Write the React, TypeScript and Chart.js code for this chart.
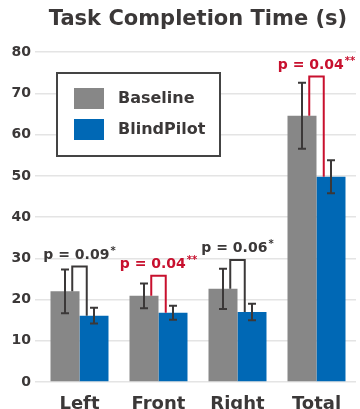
import React, { useEffect, useRef } from "react";
import { Chart, registerables } from "chart.js";

Chart.register(...registerables);

const categories = ["Left", "Front", "Right", "Total"];
const seriesNames = ["Baseline", "BlindPilot"];
const baselineMeans = [22.0, 20.9, 22.6, 64.6];
const baselineErr = [5.3, 3.0, 4.9, 8.0];
const blindPilotMeans = [16.1, 16.8, 17.0, 49.8];
const blindPilotErr = [1.9, 1.7, 2.0, 4.0];
const bracketTops = [28.0, 25.8, 29.6, 74.1];
const pValues = ["0.09", "0.04", "0.06", "0.04"];
const pStars = ["*", "**", "*", "**"];
const pSignificant = [false, true, false, true];
const yMin = 0;
const yMax = 80;
const yStep = 10;

const FONT = "'DejaVu Sans', sans-serif";
const DARK = "#3b3838";
const RED = "#c8102e";
const GRAY = "#878787";
const BLUE = "#0068b5";

const overlay = {
  id: "overlay",
  afterDatasetsDraw(chart: any) {
    const ctx = chart.ctx;
    const y = chart.scales.y;
    const area = chart.chartArea;
    const m0 = chart.getDatasetMeta(0);
    const m1 = chart.getDatasetMeta(1);
    ctx.save();

    // brackets + p labels
    m0.data.forEach((g: any, i: number) => {
      const b = m1.data[i];
      const color = pSignificant[i] ? RED : DARK;
      const lx = g.x + g.width / 4;
      const rx = b.x - b.width / 4;
      const ty = y.getPixelForValue(bracketTops[i]);
      ctx.strokeStyle = color;
      ctx.lineWidth = 2;
      ctx.beginPath();
      ctx.moveTo(lx, g.y);
      ctx.lineTo(lx, ty);
      ctx.lineTo(rx, ty);
      ctx.lineTo(rx, b.y);
      ctx.stroke();

      const main = "p = " + pValues[i];
      ctx.font = "bold 14px " + FONT;
      const w1 = ctx.measureText(main).width;
      ctx.font = "bold 10px " + FONT;
      const w2 = ctx.measureText(pStars[i]).width;
      const cx = (g.x + b.x) / 2;
      const sx = cx - (w1 + w2 + 1) / 2;
      const base = ty - 8;
      ctx.fillStyle = color;
      ctx.textAlign = "left";
      ctx.textBaseline = "alphabetic";
      ctx.font = "bold 14px " + FONT;
      ctx.fillText(main, sx, base);
      ctx.font = "bold 10px " + FONT;
      ctx.fillText(pStars[i], sx + w1 + 1, base - 5);
    });

    // error bars
    const drawErr = (meta: any, means: number[], errs: number[]) => {
      meta.data.forEach((bar: any, i: number) => {
        const x = bar.x;
        const top = y.getPixelForValue(means[i] + errs[i]);
        const bot = y.getPixelForValue(means[i] - errs[i]);
        ctx.strokeStyle = DARK;
        ctx.lineWidth = 2;
        ctx.beginPath();
        ctx.moveTo(x, top);
        ctx.lineTo(x, bot);
        ctx.moveTo(x - 4, top);
        ctx.lineTo(x + 4, top);
        ctx.moveTo(x - 4, bot);
        ctx.lineTo(x + 4, bot);
        ctx.stroke();
      });
    };
    drawErr(m0, baselineMeans, baselineErr);
    drawErr(m1, blindPilotMeans, blindPilotErr);

    // legend box
    const bx = area.left + 17;
    const by = 73;
    ctx.fillStyle = "#ffffff";
    ctx.fillRect(bx, by, 163, 83);
    ctx.strokeStyle = "#444444";
    ctx.lineWidth = 2;
    ctx.strokeRect(bx, by, 163, 83);
    const colors = [GRAY, BLUE];
    seriesNames.forEach((name, k) => {
      const sy = by + 15 + k * 31;
      ctx.fillStyle = colors[k];
      ctx.fillRect(bx + 17, sy, 30, 21);
      ctx.fillStyle = DARK;
      ctx.font = "bold 16px " + FONT;
      ctx.textAlign = "left";
      ctx.textBaseline = "middle";
      ctx.fillText(name, bx + 61, sy + 11);
    });

    ctx.restore();
  },
};

export default function App() {
  const ref = useRef<HTMLCanvasElement | null>(null);

  useEffect(() => {
    document.body.style.margin = "0";
    const canvas = ref.current;
    if (!canvas) return;
    const chart = new Chart(canvas, {
      type: "bar",
      data: {
        labels: categories,
        datasets: [
          {
            label: seriesNames[0],
            data: baselineMeans,
            backgroundColor: GRAY,
            categoryPercentage: 0.734,
            barPercentage: 1,
          },
          {
            label: seriesNames[1],
            data: blindPilotMeans,
            backgroundColor: BLUE,
            categoryPercentage: 0.734,
            barPercentage: 1,
          },
        ],
      },
      options: {
        responsive: false,
        animation: false,
        devicePixelRatio: 1,
        layout: { padding: { left: 0, right: 4, top: 0, bottom: 0 } },
        plugins: {
          legend: { display: false },
          tooltip: { enabled: false },
          title: {
            display: true,
            fullSize: false,
            text: "Task Completion Time (s)",
            color: DARK,
            font: { family: FONT, size: 21, weight: "bold", lineHeight: 1.2 },
            padding: { top: 7, bottom: 20 },
          },
        },
        scales: {
          x: {
            grid: { display: false },
            border: { display: false },
            ticks: {
              color: DARK,
              font: { family: FONT, size: 18, weight: "bold" },
              padding: 4,
            },
            afterFit: (s: any) => {
              s.height = 27;
            },
          },
          y: {
            min: yMin,
            max: yMax,
            border: { display: false },
            grid: { color: "#e4e4e4", lineWidth: 1.5, tickLength: 5 },
            ticks: {
              stepSize: yStep,
              color: DARK,
              font: { family: FONT, size: 14, weight: "bold" },
              padding: 4,
            },
            afterFit: (s: any) => {
              s.width = 40;
            },
          },
        },
      },
      plugins: [overlay],
    });
    return () => chart.destroy();
  }, []);

  return (
    <div style={{ width: 360, height: 409 }}>
      <canvas ref={ref} width={360} height={409} />
    </div>
  );
}
